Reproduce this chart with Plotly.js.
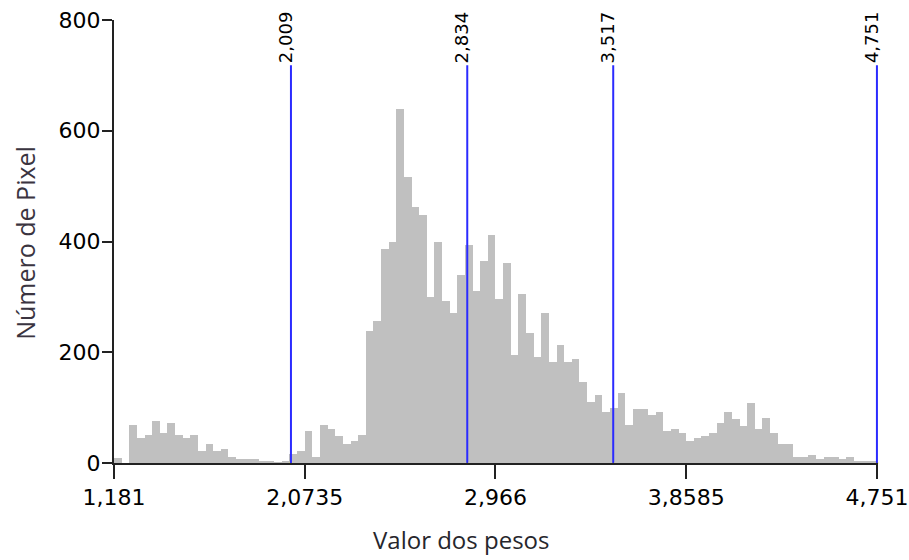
<!DOCTYPE html>
<html>
<head>
<meta charset="utf-8">
<script src="https://cdn.plot.ly/plotly-3.0.1.min.js"></script>
<style>html,body{margin:0;padding:0;background:#fff;}#chart{width:909px;height:560px;}</style>
</head>
<body>
<div id="chart"></div>
<script>
// Histogram of weights: 100 bins from 1.181 to 4.751
var binStart = 1.181;
var binEnd = 4.751;
var counts = [
  9, 0, 69, 46, 51, 76, 54, 72, 51, 46,
  51, 22, 35, 22, 25, 10, 7, 7, 7, 3,
  3, 1, 3, 17, 22, 57, 10, 69, 61, 49,
  35, 40, 51, 239, 256, 386, 400, 639, 516, 463,
  448, 299, 400, 293, 270, 340, 394, 311, 365, 412,
  296, 361, 195, 306, 234, 192, 270, 183, 213, 183,
  187, 147, 111, 123, 93, 100, 126, 69, 97, 97,
  87, 93, 57, 61, 54, 39, 46, 49, 55, 72,
  93, 79, 67, 108, 61, 82, 55, 35, 35, 10,
  10, 14, 7, 10, 10, 7, 10, 4, 3, 3
];
// Class breaks (vertical lines)
var breakValues = [2.009, 2.834, 3.517, 4.751];
var breakLabels = ['2,009', '2,834', '3,517', '4,751'];
// Axis ticks
var xTickVals = [1.181, 2.0735, 2.966, 3.8585, 4.751];
var xTickText = ['1,181', '2,0735', '2,966', '3,8585', '4,751'];
var yTickVals = [0, 200, 400, 600, 800];
var yTickText = ['0', '200', '400', '600', '800'];
var xTitle = 'Valor dos pesos';
var yTitle = 'Número de Pixel';

var nBins = counts.length;
var binWidth = (binEnd - binStart) / nBins;
var centers = counts.map(function (c, i) { return binStart + (i + 0.5) * binWidth; });

var tickFont = {family: 'DejaVu Sans', size: 22, color: '#000000'};
var lineColor = '#2b2bff';
var lineTopPaper = 0.898;

var traces = [{
  type: 'bar',
  x: centers,
  y: counts,
  width: binWidth,
  marker: {color: '#c0c0c0', line: {width: 0}},
  hoverinfo: 'x+y',
  showlegend: false
}, {
  type: 'scatter',
  mode: 'markers',
  x: breakValues,
  y: breakValues.map(function () { return 0; }),
  marker: {color: '#ffff40', size: 3},
  cliponaxis: false,
  hoverinfo: 'skip',
  showlegend: false
}];

var shapes = breakValues.map(function (v) {
  return {type: 'line', xref: 'x', yref: 'paper', x0: v, x1: v, y0: 0, y1: lineTopPaper,
          line: {color: lineColor, width: 2}, layer: 'above'};
});

var annotations = breakValues.map(function (v, i) {
  return {xref: 'x', yref: 'paper', x: v, y: lineTopPaper, text: breakLabels[i],
          textangle: -90, showarrow: false, xanchor: 'center', yanchor: 'bottom',
          xshift: -6, yshift: 0, font: {family: 'DejaVu Sans', size: 18, color: '#000000'}};
});
annotations.push({xref: 'paper', yref: 'paper', x: 0.454, y: 0, yshift: -95, xanchor: 'center', yanchor: 'bottom',
  text: xTitle, showarrow: false, font: {family: 'Open Sans', size: 24, color: '#26262c'}});
annotations.push({xref: 'paper', yref: 'paper', x: 0, xshift: -89, y: 0.497, xanchor: 'center', yanchor: 'middle',
  textangle: -90, text: yTitle, showarrow: false, font: {family: 'Open Sans', size: 25, color: '#3a3440'}});

var layout = {
  width: 909, height: 560,
  margin: {l: 114, r: 31, t: 20, b: 97, pad: 0},
  paper_bgcolor: '#ffffff', plot_bgcolor: '#ffffff',
  bargap: 0,
  xaxis: {range: [binStart, binEnd + 0.005], tickmode: 'array', tickvals: xTickVals, ticktext: xTickText,
          ticks: 'outside', ticklen: 14, tickwidth: 2, tickcolor: '#222', showline: true, linewidth: 2,
          linecolor: '#222', showgrid: false, zeroline: false, tickfont: tickFont, fixedrange: true},
  yaxis: {range: [0, 800], tickmode: 'array', tickvals: yTickVals, ticktext: yTickText,
          ticks: 'outside', ticklen: 10, tickwidth: 2, tickcolor: '#222', showline: true, linewidth: 2,
          linecolor: '#222', showgrid: false, zeroline: false, tickfont: tickFont, fixedrange: true,
          ticklabelstandoff: -3},
  shapes: shapes,
  annotations: annotations
};

Plotly.newPlot('chart', traces, layout, {displayModeBar: false, staticPlot: true});
</script>
</body>
</html>
